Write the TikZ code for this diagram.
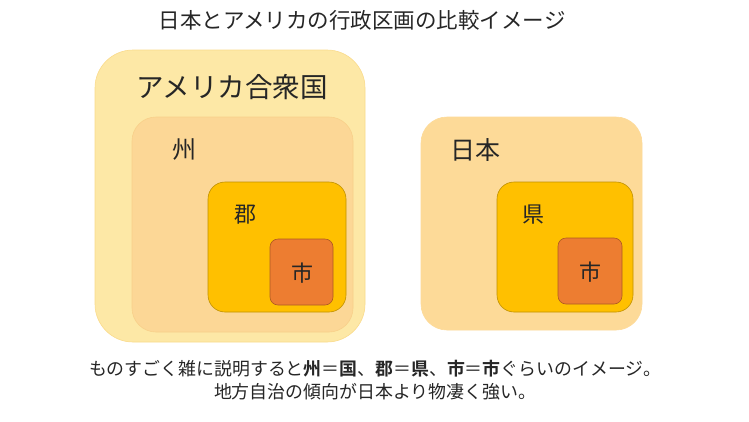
\documentclass[tikz,border=0pt]{standalone}
\usepackage{fontspec}
\newfontfamily\jp{Noto Sans CJK JP}
\newfontfamily\jpb{Noto Sans CJK JP Bold}
\definecolor{usouter}{HTML}{FDE8A6}
\definecolor{usouteredge}{HTML}{FADB8C}
\definecolor{stateb}{HTML}{FCD796}
\definecolor{statebedge}{HTML}{F8D08A}
\definecolor{jpouter}{HTML}{FDDA98}
\definecolor{county}{HTML}{FFC000}
\definecolor{countyedge}{HTML}{BF9000}
\definecolor{city}{HTML}{ED7D31}
\definecolor{cityedge}{HTML}{AE5A21}
\tikzset{
  region/.style={draw, line width=0.6pt},
  lbl/.style={inner sep=0pt, text=black!85, font=\jp},
}
\begin{document}
\begin{tikzpicture}[x=1pt,y=-1pt]
\useasboundingbox[fill=white] (0,0) rectangle (749,421);
% USA
\draw[region, fill=usouter, draw=usouteredge, rounded corners=38pt] (95,50) rectangle (365,342);
\draw[region, fill=stateb, draw=statebedge, rounded corners=24pt] (132,117) rectangle (353,332);
\draw[region, fill=county, draw=countyedge, rounded corners=17pt] (208,182) rectangle (346,312);
\draw[region, fill=city, draw=cityedge, rounded corners=8pt] (270,239) rectangle (333,305);
\node[lbl, font=\jp\fontsize{27.5}{30}\selectfont] (us) at (232,87) {アメリカ合衆国};
\node[lbl, font=\jp\fontsize{24}{26}\selectfont] (st) at (184,150) {州};
\node[lbl, font=\jp\fontsize{22}{24}\selectfont] (co) at (245,215) {郡};
\node[lbl, font=\jp\fontsize{22}{24}\selectfont] (ci1) at (302,273) {市};
% Japan
\draw[region, fill=jpouter, draw=jpouter, rounded corners=26pt] (421,117) rectangle (642,330);
\draw[region, fill=county, draw=countyedge, rounded corners=17pt] (497,182) rectangle (633,312);
\draw[region, fill=city, draw=cityedge, rounded corners=8pt] (558,238) rectangle (622,304);
\node[lbl, font=\jp\fontsize{25}{28}\selectfont] (jp) at (475,150) {日本};
\node[lbl, font=\jp\fontsize{22}{24}\selectfont] (pr) at (533,215) {県};
\node[lbl, font=\jp\fontsize{22}{24}\selectfont] (ci2) at (590,272) {市};
% texts
\node[lbl, font=\jp\fontsize{21.5}{24}\selectfont] (title) at (362,20) {日本とアメリカの行政区画の比較イメージ};
\node[lbl, font=\jp\fontsize{17.9}{20}\selectfont] (l1) at (375,369) {ものすごく雑に説明すると{\jpb 州}＝{\jpb 国}、{\jpb 郡}＝{\jpb 県}、{\jpb 市}＝{\jpb 市}ぐらいのイメージ。};
\node[lbl, font=\jp\fontsize{17.9}{20}\selectfont] (l2) at (375,392) {地方自治の傾向が日本より物凄く強い。};
\end{tikzpicture}
\end{document}
